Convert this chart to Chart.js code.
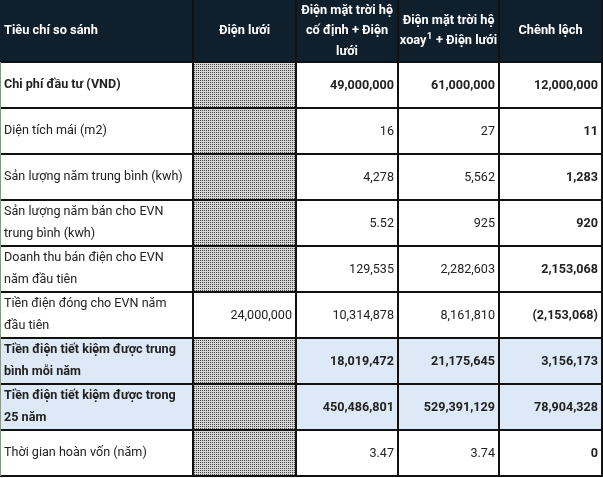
<!DOCTYPE html>
<html>
<head>
<meta charset="utf-8">
<script src="https://cdn.jsdelivr.net/npm/chart.js"></script>
<style>
  html, body { margin: 0; padding: 0; background: #fff; }
  #wrap { position: relative; width: 603px; height: 478px; }
</style>
</head>
<body>
<div id="wrap"><canvas id="tableChart"></canvas></div>
<script>
// Dữ liệu bảng so sánh
const criteria = [
  ["Chi phí đầu tư (VND)"],
  ["Diện tích mái (m2)"],
  ["Sản lượng năm trung bình (kwh)"],
  ["Sản lượng năm bán cho EVN", "trung bình (kwh)"],
  ["Doanh thu bán điện cho EVN", "năm đầu tiên"],
  ["Tiền điện đóng cho EVN năm", "đầu tiên"],
  ["Tiền điện tiết kiệm được trung", "bình mỗi năm"],
  ["Tiền điện tiết kiệm được trong", "25 năm"],
  ["Thời gian hoàn vốn (năm)"]
];
const gridOnly      = [null, null, null, null, null, 24000000, null, null, null];
const fixedSolar    = [49000000, 16, 4278, 5.52, 129535, 10314878, 18019472, 450486801, 3.47];
const rotatingSolar = [61000000, 27, 5562, 925, 2282603, 8161810, 21175645, 529391129, 3.74];
const difference    = [12000000, 11, 1283, 920, 2153068, -2153068, 3156173, 78904328, 0];
const headers = [
  ["Tiêu chí so sánh"],
  ["Điện lưới"],
  ["Điện mặt trời hệ", "cố định + Điện", "lưới"],
  ["Điện mặt trời hệ", "xoay¹ + Điện lưới"],
  ["Chênh lệch"]
];
const boldRows = [0, 6, 7];
const shadedRows = [6, 7];

// bố cục (đơn vị của trục)
const colEdges = [0, 193, 296, 398, 499, 602];
const rowEdges = [0, 62, 108, 154, 200, 246, 292, 338, 384, 430, 476];

const FONT = "Roboto, 'Liberation Sans', sans-serif";
const BODY = "12.6px " + FONT;

function fmt(v) {
  if (v === null || v === undefined) return "";
  const neg = v < 0;
  const a = Math.abs(v);
  const s = Number.isInteger(a) ? a.toLocaleString("en-US") : a.toFixed(2);
  return neg ? "(" + s + ")" : s;
}

function makeDots() {
  const c = document.createElement("canvas");
  c.width = 2; c.height = 2;
  const g = c.getContext("2d");
  g.fillStyle = "#d6d6d6"; g.fillRect(0, 0, 2, 2);
  g.fillStyle = "#444"; g.fillRect(0, 0, 1, 1);
  return g.createPattern(c, "repeat");
}

const tablePlugin = {
  id: "tableDraw",
  beforeDraw(chart) {
    const ctx = chart.ctx;
    const xs = chart.scales.x, ys = chart.scales.y;
    const X = v => xs.getPixelForValue(v);
    const Y = v => ys.getPixelForValue(v);
    const rect = (c0, c1, r0, r1, fill) => {
      ctx.fillStyle = fill;
      ctx.fillRect(X(colEdges[c0]), Y(rowEdges[r0]), X(colEdges[c1]) - X(colEdges[c0]), Y(rowEdges[r1]) - Y(rowEdges[r0]));
    };
    ctx.save();
    ctx.fillStyle = "#fff";
    ctx.fillRect(0, 0, chart.width, chart.height);

    // nền tiêu đề và hàng tô màu
    rect(0, 5, 0, 1, "#0f1f2c");
    shadedRows.forEach(r => rect(0, 5, r + 1, r + 2, "#dde9f6"));
    const dots = makeDots();
    gridOnly.forEach((v, r) => { if (v === null) rect(1, 2, r + 1, r + 2, dots); });

    // đường kẻ
    ctx.fillStyle = "#111";
    for (let i = 1; i < rowEdges.length; i++) {
      ctx.fillRect(0, Math.round(Y(rowEdges[i])) - 1, X(colEdges[5]) + 1, 2);
    }
    for (let i = 1; i < colEdges.length; i++) {
      ctx.fillRect(Math.round(X(colEdges[i])) - 1, 0, 2, Y(rowEdges[rowEdges.length - 1]));
    }
    ctx.fillStyle = "#8a958a";
    ctx.fillRect(0, Y(rowEdges[1]), 1, Y(rowEdges[rowEdges.length - 1]) - Y(rowEdges[1]));

    // chữ tiêu đề
    ctx.fillStyle = "#fff";
    ctx.textBaseline = "middle";
    const hMid = (Y(rowEdges[0]) + Y(rowEdges[1])) / 2;
    headers.forEach((lines, c) => {
      const lh = 20.5;
      const x0 = X(colEdges[c]), x1 = X(colEdges[c + 1]);
      lines.forEach((t, i) => {
        const y = hMid + (i - (lines.length - 1) / 2) * lh;
        ctx.font = "bold 12.8px " + FONT;
        if (c === 0) {
          ctx.textAlign = "left";
          ctx.fillText(t, x0 + 4, y);
        } else if (t.indexOf("¹") >= 0) {
          const [a, b] = t.split("¹");
          const wa = ctx.measureText(a).width, wb = ctx.measureText(b).width;
          ctx.font = "bold 9px " + FONT;
          const ws = ctx.measureText("1").width + 1;
          const start = (x0 + x1) / 2 - (wa + ws + wb) / 2;
          ctx.textAlign = "left";
          ctx.fillText("1", start + wa + 0.5, y - 5);
          ctx.font = "bold 12.8px " + FONT;
          ctx.fillText(a, start, y);
          ctx.fillText(b, start + wa + ws, y);
        } else {
          ctx.textAlign = "center";
          ctx.fillText(t, (x0 + x1) / 2, y);
        }
      });
    });

    // nội dung
    ctx.fillStyle = "#222";
    criteria.forEach((lines, r) => {
      const y0 = Y(rowEdges[r + 1]), y1 = Y(rowEdges[r + 2]);
      const mid = (y0 + y1) / 2;
      const bold = boldRows.includes(r);
      ctx.font = (bold ? "bold " : "") + BODY;
      ctx.textAlign = "left";
      lines.forEach((t, i) => {
        ctx.fillText(t, X(colEdges[0]) + 4, mid + (i - (lines.length - 1) / 2) * 22.5);
      });
      const cols = [gridOnly[r], fixedSolar[r], rotatingSolar[r], difference[r]];
      ctx.textAlign = "right";
      cols.forEach((v, k) => {
        const b = bold || k === 3;
        ctx.font = (b ? "bold " : "") + BODY;
        ctx.fillText(fmt(v), X(colEdges[k + 2]) - 4, mid + 1);
      });
    });
    ctx.restore();
  }
};

new Chart(document.getElementById("tableChart"), {
  type: "scatter",
  data: { datasets: [{ data: [], pointRadius: 0 }] },
  options: {
    responsive: true,
    maintainAspectRatio: false,
    animation: false,
    layout: { padding: 0 },
    plugins: { legend: { display: false }, tooltip: { enabled: false } },
    scales: {
      x: { type: "linear", min: 0, max: 603, display: false },
      y: { type: "linear", min: 0, max: 478, reverse: true, display: false }
    }
  },
  plugins: [tablePlugin]
});
</script>
</body>
</html>
